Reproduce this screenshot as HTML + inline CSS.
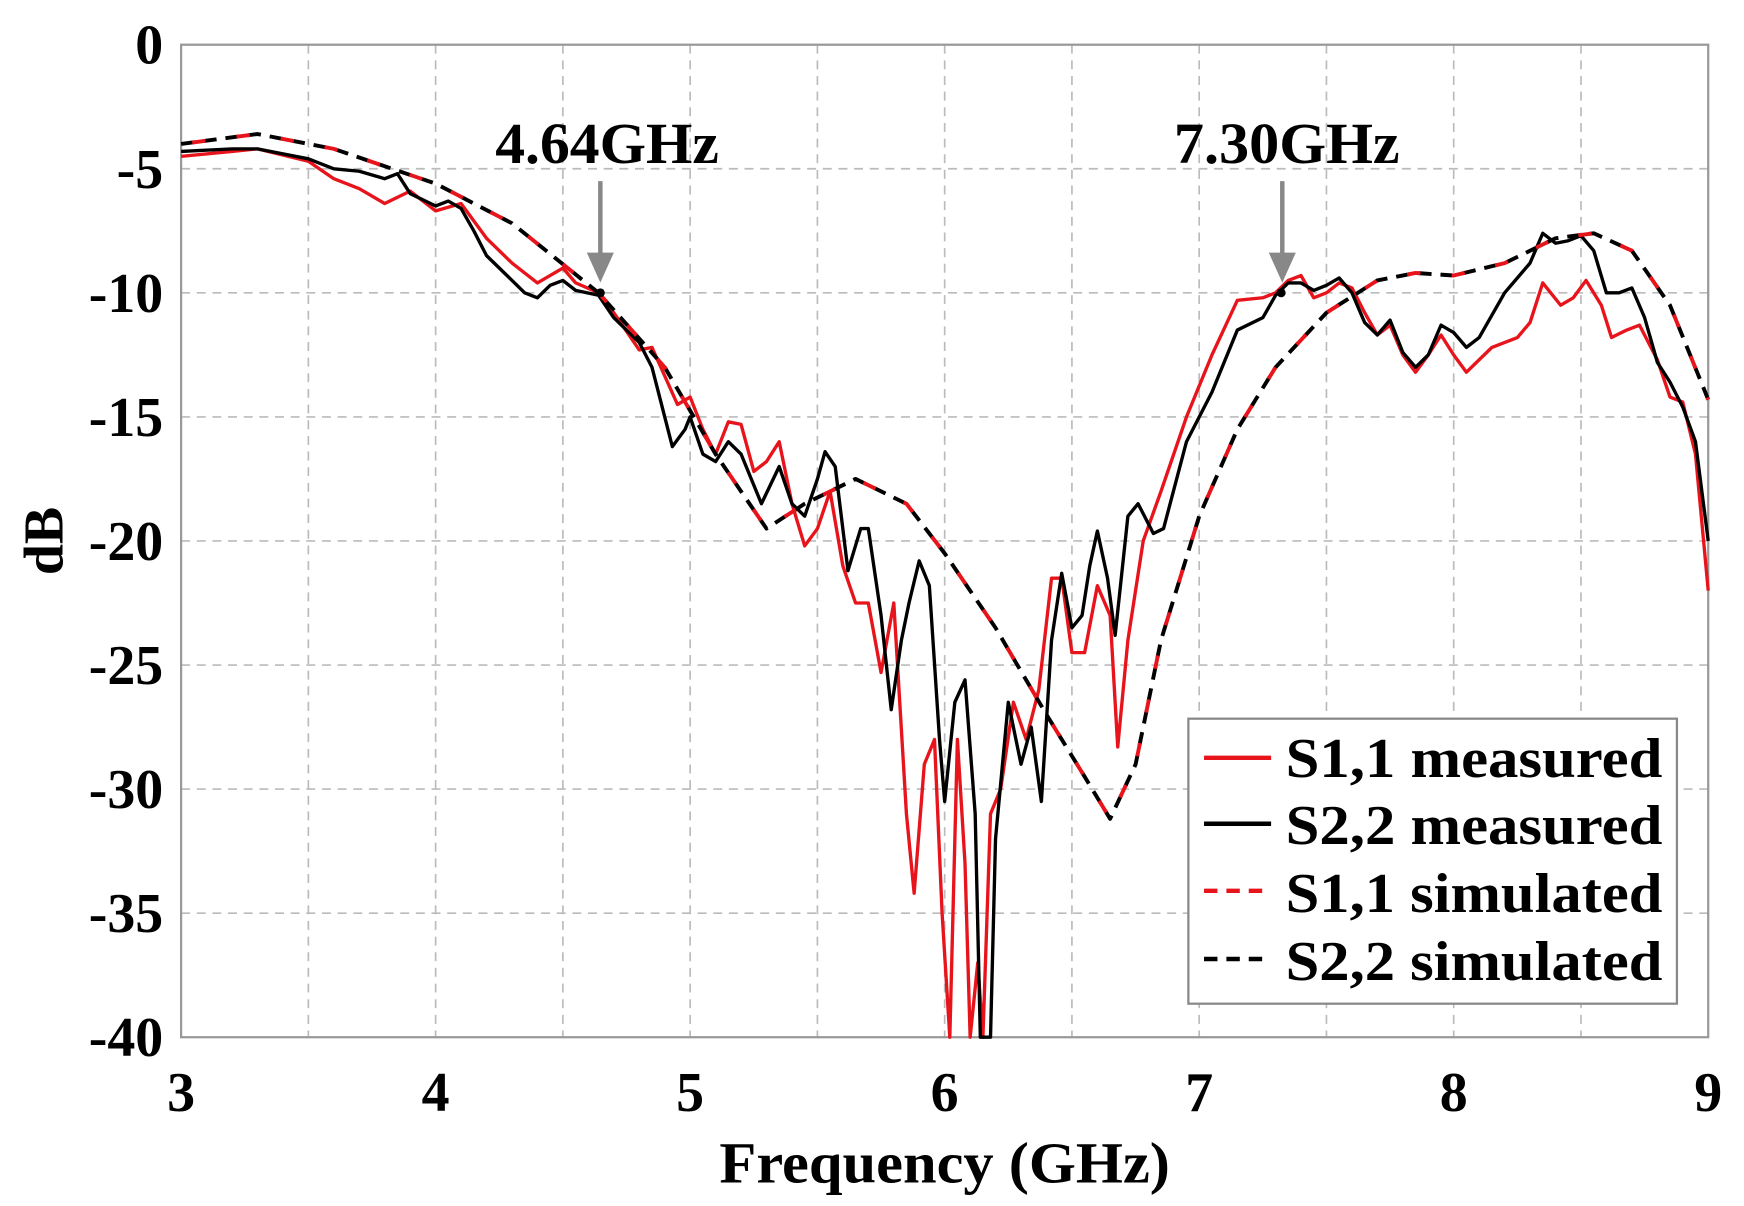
<!DOCTYPE html>
<html><head><meta charset="utf-8"><style>
html,body{margin:0;padding:0;background:#fff;}
svg{display:block;}
text{font-family:"Liberation Serif",serif;font-weight:bold;fill:#000;}
</style></head><body>
<svg id="s" width="1744" height="1206" viewBox="0 0 1560 1079" preserveAspectRatio="none" xmlns="http://www.w3.org/2000/svg">
<rect x="0" y="0" width="1560" height="1079" fill="#fff"/>
<g id="grid" stroke="#bbb" stroke-width="1.5" stroke-dasharray="8,6"></g>
<rect x="162" y="40" width="1366" height="888" fill="none" stroke="#999" stroke-width="2"/>
<g id="curves" fill="none" stroke-linejoin="round"></g>
<g font-size="50" text-anchor="end" id="yl"></g>
<g font-size="50" text-anchor="middle" id="xl"></g>
<text x="845" y="1058" font-size="52" text-anchor="middle" fill="#333" textLength="403" lengthAdjust="spacingAndGlyphs">Frequency (GHz)</text>
<text x="56" y="484" font-size="50" text-anchor="middle" transform="rotate(-90 56 484)">dB</text>
<text x="443" y="146" font-size="52" textLength="200" lengthAdjust="spacingAndGlyphs">4.64GHz</text>
<text x="1050" y="146" font-size="52" textLength="202" lengthAdjust="spacingAndGlyphs">7.30GHz</text>
<g stroke="#888" stroke-width="4" fill="#888">
<line x1="537" y1="162" x2="537" y2="232"/><polygon points="528,228 546,228 537,248"/>
<line x1="1147" y1="162" x2="1147" y2="232"/><polygon points="1138,228 1156,228 1147,248"/>
</g>
<circle cx="537" cy="262" r="4" fill="#000"/><circle cx="1146" cy="262" r="4" fill="#000"/>
<rect x="1063" y="643" width="437" height="255" fill="#fff" stroke="#888" stroke-width="2"/>
<g stroke-width="4">
<line x1="1077" y1="678" x2="1137" y2="678" stroke="#e8141c"/>
<line x1="1077" y1="737" x2="1137" y2="737" stroke="#000"/>
<line x1="1077" y1="797" x2="1137" y2="797" stroke="#e8141c" stroke-dasharray="12,8"/>
<line x1="1077" y1="858" x2="1137" y2="858" stroke="#000" stroke-dasharray="12,8"/>
</g>
<g font-size="50">
<text x="1150" y="695" textLength="337" lengthAdjust="spacingAndGlyphs">S1,1 measured</text>
<text x="1150" y="755" textLength="337" lengthAdjust="spacingAndGlyphs">S2,2 measured</text>
<text x="1150" y="816" textLength="337" lengthAdjust="spacingAndGlyphs">S1,1 simulated</text>
<text x="1150" y="877" textLength="337" lengthAdjust="spacingAndGlyphs">S2,2 simulated</text>
</g>
</svg>
<script>
var X=f=>162+(f-3)*1366/6, Y=d=>40-d*888/40;
var ns="http://www.w3.org/2000/svg";
function el(p,t,a,txt){var e=document.createElementNS(ns,t);for(var k in a)e.setAttribute(k,a[k]);if(txt!=null)e.textContent=txt;document.getElementById(p).appendChild(e);}
for(var f=3.5;f<9;f+=0.5)el("grid","line",{x1:X(f),y1:40,x2:X(f),y2:928});
for(var d=-5;d>-40;d-=5)el("grid","line",{x1:162,y1:Y(d),x2:1528,y2:Y(d)});
for(var d=0;d>=-40;d-=5)el("yl","text",{x:146,y:Y(d)+17},d);
for(var f=3;f<=9;f++)el("xl","text",{x:X(f),y:994},f);
function path(pts,c,w,da,off){var s=pts.map((p,i)=>(i?"L":"M")+X(p[0]).toFixed(1)+","+Math.min(928,Y(p[1])).toFixed(1)).join("");var a={d:s,stroke:c,"stroke-width":w};if(da){a["stroke-dasharray"]=da;a["stroke-dashoffset"]=off;}el("curves","path",a);}
var sim=[[3,-4.0],[3.3,-3.6],[3.6,-4.2],[4,-5.6],[4.3,-7.2],[4.64,-10],[4.9,-13],[5.1,-16.5],[5.3,-19.5],[5.45,-18.5],[5.65,-17.5],[5.85,-18.5],[6.0,-20.5],[6.2,-23.5],[6.4,-27],[6.55,-29.5],[6.65,-31.2],[6.75,-29],[6.85,-24],[7.0,-19],[7.15,-15.5],[7.3,-13],[7.5,-10.8],[7.7,-9.5],[7.85,-9.2],[8.0,-9.3],[8.2,-8.8],[8.4,-7.8],[8.55,-7.6],[8.7,-8.3],[8.85,-10.5],[9,-14.3]];
var r=[[3,-4.5],[3.2,-4.3],[3.3,-4.2],[3.5,-4.7],[3.6,-5.4],[3.7,-5.8],[3.8,-6.4],[3.9,-5.9],[4.0,-6.7],[4.1,-6.4],[4.2,-7.8],[4.3,-8.8],[4.4,-9.6],[4.5,-9.0],[4.55,-9.6],[4.64,-10],[4.7,-10.8],[4.8,-12.3],[4.85,-12.2],[4.95,-14.5],[5.0,-14.2],[5.05,-15.5],[5.1,-16.5],[5.15,-15.2],[5.2,-15.3],[5.25,-17.2],[5.3,-16.8],[5.35,-16],[5.4,-18.5],[5.45,-20.2],[5.5,-19.5],[5.55,-18],[5.6,-21],[5.65,-22.5],[5.7,-22.5],[5.75,-25.3],[5.8,-22.5],[5.85,-31],[5.88,-34.2],[5.92,-29],[5.96,-28],[5.99,-35],[6.02,-41],[6.05,-28],[6.08,-33],[6.1,-41],[6.13,-37],[6.15,-41],[6.18,-31],[6.22,-30],[6.27,-26.5],[6.32,-28],[6.37,-26],[6.42,-21.5],[6.46,-21.5],[6.5,-24.5],[6.55,-24.5],[6.6,-21.8],[6.65,-23],[6.68,-28.3],[6.72,-24],[6.78,-20],[6.85,-18],[6.95,-15],[7.05,-12.5],[7.15,-10.3],[7.25,-10.2],[7.3,-10],[7.35,-9.5],[7.4,-9.3],[7.45,-10.2],[7.5,-10],[7.55,-9.6],[7.6,-9.8],[7.65,-10.8],[7.7,-11.7],[7.75,-11.3],[7.8,-12.5],[7.85,-13.2],[7.9,-12.5],[7.95,-11.7],[8.0,-12.5],[8.05,-13.2],[8.15,-12.2],[8.25,-11.8],[8.3,-11.2],[8.35,-9.6],[8.42,-10.5],[8.47,-10.2],[8.52,-9.5],[8.58,-10.5],[8.62,-11.8],[8.68,-11.5],[8.73,-11.3],[8.8,-12.7],[8.85,-14.2],[8.9,-14.4],[8.95,-16.5],[9,-22]];
var b=[[3,-4.3],[3.2,-4.2],[3.3,-4.2],[3.5,-4.6],[3.6,-5.0],[3.7,-5.1],[3.8,-5.4],[3.85,-5.2],[3.9,-6.0],[4.0,-6.5],[4.05,-6.3],[4.1,-6.6],[4.15,-7.5],[4.2,-8.5],[4.3,-9.5],[4.35,-10],[4.4,-10.2],[4.45,-9.7],[4.5,-9.5],[4.55,-9.9],[4.64,-10.1],[4.7,-11],[4.8,-12],[4.85,-13],[4.9,-15],[4.93,-16.2],[4.98,-15.5],[5.0,-15],[5.05,-16.5],[5.1,-16.8],[5.15,-16],[5.2,-16.5],[5.28,-18.5],[5.35,-17],[5.4,-18.5],[5.45,-19],[5.5,-17.5],[5.53,-16.4],[5.57,-17],[5.62,-21.2],[5.67,-19.5],[5.7,-19.5],[5.75,-23],[5.79,-26.8],[5.83,-24],[5.86,-22.5],[5.9,-20.8],[5.94,-21.8],[5.98,-28],[6.0,-30.5],[6.04,-26.5],[6.08,-25.6],[6.12,-31],[6.14,-41],[6.18,-41],[6.2,-32],[6.25,-26.5],[6.3,-29],[6.34,-27.5],[6.38,-30.5],[6.42,-24],[6.46,-21.3],[6.5,-23.5],[6.54,-23],[6.57,-21],[6.6,-19.6],[6.64,-21.5],[6.67,-23.8],[6.72,-19],[6.76,-18.5],[6.82,-19.7],[6.86,-19.5],[6.95,-16],[7.05,-14],[7.15,-11.5],[7.25,-11],[7.3,-10.1],[7.35,-9.6],[7.4,-9.6],[7.45,-9.9],[7.5,-9.7],[7.55,-9.4],[7.6,-10.0],[7.65,-11.2],[7.7,-11.7],[7.75,-11.1],[7.8,-12.4],[7.85,-13],[7.9,-12.5],[7.95,-11.3],[8.0,-11.6],[8.05,-12.2],[8.1,-11.8],[8.2,-10],[8.3,-8.8],[8.35,-7.6],[8.4,-8.0],[8.45,-7.9],[8.5,-7.7],[8.55,-8.3],[8.6,-10],[8.65,-10],[8.7,-9.8],[8.75,-11],[8.8,-12.8],[8.85,-13.6],[8.9,-14.6],[8.95,-16],[9,-20]];
path(r,"#e8141c",3);
path(b,"#000",3);
path(sim,"#000",3.5,"12,8",0);
path(sim,"#e8141c",3.5,"12,28",-10);
</script>
</body></html>
